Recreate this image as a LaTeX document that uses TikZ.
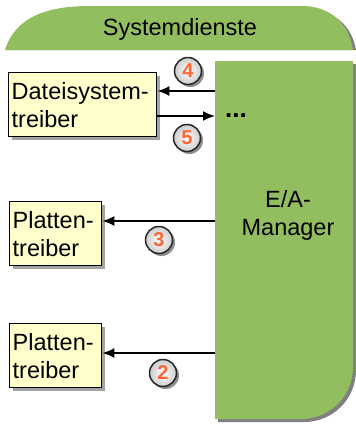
\documentclass[tikz,border=0pt]{standalone}
\usepackage{fontspec}
\setmainfont{Liberation Sans}
\usetikzlibrary{arrows.meta,shadows}
\definecolor{grn}{HTML}{93BE5F}
\definecolor{boxfill}{HTML}{FFFFCC}
\definecolor{numcol}{HTML}{FF6633}
\tikzset{
  lbl/.style={font=\fontsize{23.5}{28}\selectfont, inner sep=0pt},
  drvbox/.style={draw=black, line width=1.4pt, fill=boxfill, inner xsep=3pt, inner ysep=0pt,
    font=\fontsize{23.5}{28}\selectfont, align=left, anchor=north west,
    drop shadow={shadow xshift=3pt, shadow yshift=-3pt, fill=black!45, opacity=.8}},
  numc/.style={circle, minimum size=27pt, inner sep=0pt, draw=black!85, line width=1.5pt,
    inner color=white, outer color=black!20, text=numcol,
    font=\fontsize{20}{20}\selectfont\bfseries,
    drop shadow={shadow xshift=2.5pt, shadow yshift=-2.5pt, fill=black!55, opacity=.8}},
  arr/.style={line width=1.6pt, -{Latex[length=12pt,width=10pt]}},
}
\begin{document}
\begin{tikzpicture}[x=1pt,y=-1pt]
\useasboundingbox (0,0) rectangle (356,424);
% top shape (Systemdienste)
\fill[black!50] (8,50) .. controls (18,20) and (48,9) .. (93,9) -- (305,9) .. controls (334,9) and (352,26) .. (356,50) -- cycle;
\fill[grn] (5,50) .. controls (15,18) and (45,6) .. (90,6) -- (302,6) .. controls (331,6) and (349,24) .. (353,50) -- cycle;
\node[lbl] (sys) at (180,29) {Systemdienste};
% E/A-Manager shape
\fill[black!50] (218,64) -- (356,64) -- (356,370) .. controls (356,399) and (333,422) .. (304,422) -- (218,422) -- cycle;
\fill[grn] (215,61) -- (353,61) -- (353,367) .. controls (353,396) and (330,419) .. (301,419) -- (215,419) -- cycle;
\node[lbl, align=center] (ea) at (288,215) {E/A-\\Manager};
\node[lbl, font=\fontsize{26}{28}\selectfont\bfseries] (dots) at (236,116) {...};
\coordinate (e4) at (215,91);
\coordinate (e5) at (215,116);
\coordinate (e3) at (215,221);
\coordinate (e2) at (215,353);
% driver boxes
\node[drvbox, minimum width=148pt, minimum height=64pt, text width=142pt] (dfs) at (8,72) {Dateisystem-\\treiber};
\node[drvbox, minimum width=92pt, minimum height=64pt, text width=86pt] (pt1) at (9,201) {Platten-\\treiber};
\node[drvbox, minimum width=92pt, minimum height=64pt, text width=86pt] (pt2) at (9,323) {Platten-\\treiber};
% arrows
\draw[arr] (e4) -- (e4 -| dfs.east);
\draw[arr] (e5 -| dfs.east) -- (e5);
\draw[arr] (e3) -- (e3 -| pt1.east);
\draw[arr] (e2) -- (e2 -| pt2.east);
% numbers
\node[numc] (n4) at (188,71) {4};
\node[numc] (n5) at (187,138) {5};
\node[numc] (n3) at (159,240) {3};
\node[numc] (n2) at (163,373) {2};
\end{tikzpicture}
\end{document}
